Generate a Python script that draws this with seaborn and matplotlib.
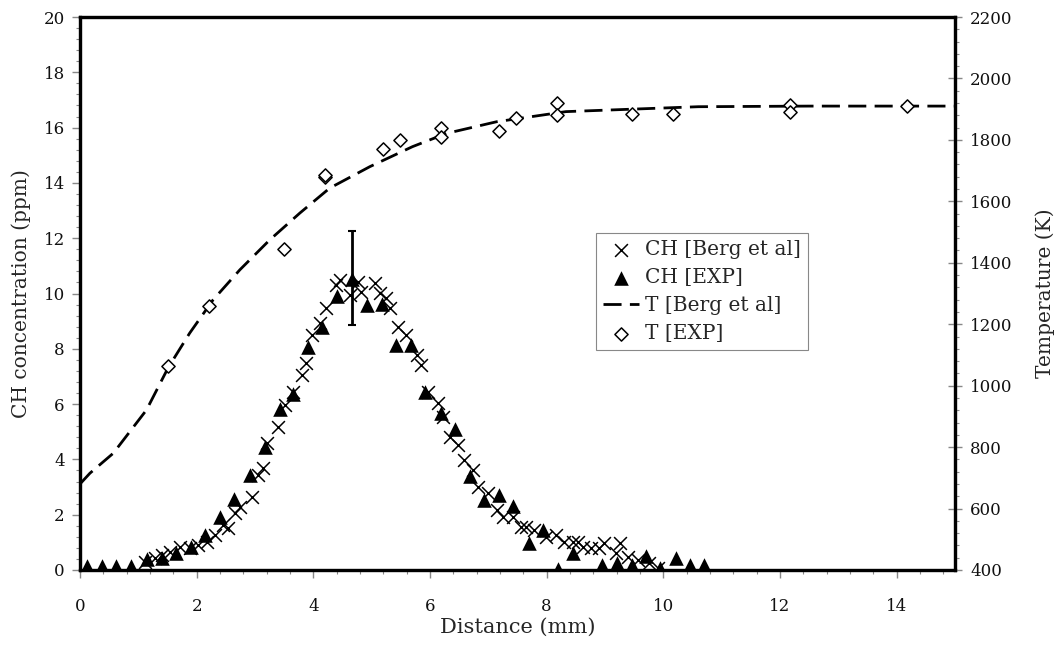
import numpy as np
import pandas as pd
import matplotlib
matplotlib.use("Agg")
import matplotlib.pyplot as plt
from matplotlib.ticker import MultipleLocator
import seaborn as sns

# CH [Berg et al] (crosses): distance (mm), CH (ppm)
ch_berg_x = [1.11, 1.28, 1.40, 1.54, 1.71, 1.88, 2.03, 2.17, 2.31, 2.45, 2.54, 2.65, 2.74,
             2.94, 3.05, 3.14, 3.20, 3.40, 3.52, 3.65, 3.80, 3.88, 3.97, 4.11, 4.22, 4.38,
             4.46, 4.62, 4.77, 4.82, 5.05, 5.14, 5.25, 5.31, 5.45, 5.59, 5.77, 5.85, 5.96,
             6.14, 6.22, 6.34, 6.48, 6.59, 6.73, 6.82, 6.99, 7.14, 7.25, 7.42, 7.56, 7.65,
             7.79, 7.99, 8.16, 8.30, 8.45, 8.53, 8.62, 8.76, 8.90, 8.99, 9.19, 9.25, 9.39,
             9.56, 9.76, 9.90]
ch_berg_y = [0.30, 0.42, 0.55, 0.66, 0.84, 0.78, 0.90, 1.02, 1.27, 1.63, 1.51, 2.05, 2.29,
             2.65, 3.44, 3.68, 4.58, 5.18, 5.97, 6.42, 7.05, 7.47, 8.50, 8.92, 9.46, 10.31,
             10.49, 9.95, 10.43, 10.07, 10.37, 10.01, 9.83, 9.46, 8.80, 8.50, 7.78, 7.41, 6.45,
             6.03, 5.54, 4.82, 4.52, 3.98, 3.62, 3.01, 2.77, 2.17, 1.93, 1.93, 1.57, 1.57,
             1.45, 1.20, 1.27, 1.02, 1.02, 1.02, 0.84, 0.78, 0.78, 0.97, 0.60, 0.97, 0.48,
             0.36, 0.24, 0.06]

# CH [EXP] (triangles)
ch_exp_x = [0.12, 0.37, 0.62, 0.88, 1.14, 1.40, 1.64, 1.90, 2.15, 2.40, 2.64, 2.91, 3.17,
            3.43, 3.65, 3.91, 4.15, 4.41, 4.67, 4.92, 5.17, 5.42, 5.68, 5.92, 6.18, 6.43,
            6.68, 6.92, 7.18, 7.43, 7.69, 7.93, 8.19, 8.45, 8.95, 9.20, 9.46, 9.70, 9.95,
            10.21, 10.46, 10.70]
ch_exp_y = [0.15, 0.15, 0.15, 0.15, 0.39, 0.42, 0.60, 0.84, 1.27, 1.90, 2.57, 3.44, 4.46,
            5.82, 6.35, 8.08, 8.80, 9.91, 10.51, 9.58, 9.61, 8.14, 8.14, 6.45, 5.69, 5.09,
            3.40, 2.53, 2.71, 2.31, 0.96, 1.45, 0.02, 0.60, 0.18, 0.24, 0.18, 0.51, 0.06,
            0.42, 0.18, 0.18]

# error bar on the peak experimental point
err_x = [4.67]
err_y = [10.55]
err_y_delta = [1.70]

# T [Berg et al] (dashed line): distance (mm), temperature (K)
t_berg_x = [0.0, 0.17, 0.57, 1.14, 1.51, 1.88, 2.28, 2.74, 3.25, 3.77, 4.28, 4.97, 5.70,
            6.28, 7.14, 8.33, 10.6, 12.5, 15.0]
t_berg_y = [680, 715, 780, 921, 1058, 1171, 1279, 1377, 1474, 1562, 1643, 1713, 1778,
            1821, 1859, 1892, 1908, 1910, 1910]

# T [EXP] (diamonds)
t_exp_x = [1.51, 2.21, 3.49, 4.20, 4.20, 5.19, 5.49, 6.19, 6.19, 7.19, 7.48, 8.18, 8.18,
           9.47, 10.17, 12.17, 12.17, 14.17]
t_exp_y = [1064, 1260, 1444, 1680, 1685, 1769, 1800, 1838, 1810, 1830, 1870, 1919, 1881,
           1884, 1884, 1914, 1892, 1910]

sns.set_style("white")
plt.rcParams['font.family'] = ['DejaVu Serif']
plt.rcParams['font.size'] = 13

fig = plt.figure(figsize=(10.55, 6.47), dpi=100)
ax = fig.add_axes([80 / 1055, 1 - 570 / 647, 875 / 1055, 553 / 647])
ax2 = ax.twinx()

sns.scatterplot(x=ch_berg_x, y=ch_berg_y, ax=ax, marker='x', color='black', s=85,
                linewidth=1.1, label='CH [Berg et al]', zorder=3)
sns.scatterplot(x=ch_exp_x, y=ch_exp_y, ax=ax, marker='^', color='black', s=110,
                edgecolor='black', linewidth=0, label='CH [EXP]', zorder=4)
ax.errorbar(err_x, err_y, yerr=err_y_delta, fmt='none', ecolor='black', elinewidth=2,
            capsize=3, capthick=1.5, zorder=5)

sns.lineplot(x=t_berg_x, y=t_berg_y, ax=ax2, color='black', linewidth=2,
             label='T [Berg et al]', zorder=3)
ax2.lines[-1].set_dashes((6.5, 3))
sns.scatterplot(x=t_exp_x, y=t_exp_y, ax=ax2, marker='D', s=45, facecolor='white',
                edgecolor='black', linewidth=1.1, label='T [EXP]', zorder=4)

for a in (ax, ax2):
    lg = a.get_legend()
    if lg is not None:
        lg.remove()

ax.set_xlim(0, 15)
ax.set_ylim(0, 20)
ax2.set_ylim(400, 2200)

ax.xaxis.set_major_locator(MultipleLocator(2))
ax.xaxis.set_minor_locator(MultipleLocator(0.4))
ax.yaxis.set_major_locator(MultipleLocator(2))
ax.yaxis.set_minor_locator(MultipleLocator(0.4))
ax2.yaxis.set_major_locator(MultipleLocator(200))
ax2.yaxis.set_minor_locator(MultipleLocator(40))

ax.tick_params(axis='both', which='major', direction='out', length=6, width=1,
               color='#888888', labelsize=12, labelcolor='#111111',
               bottom=True, left=True, pad=5)
ax.tick_params(axis='x', which='major', pad=14)
ax.tick_params(axis='both', which='minor', direction='out', length=3, width=0.8,
               color='#888888', bottom=True, left=True)
ax2.tick_params(axis='y', which='major', direction='inout', length=10, width=1,
                color='#888888', labelsize=12, labelcolor='#111111', right=True, pad=6)
ax2.tick_params(axis='y', which='minor', direction='out', length=3, width=0.8,
                color='#888888', right=True)

ax.set_xlabel('Distance (mm)', fontsize=15, labelpad=2)
ax.set_ylabel('CH concentration (ppm)', fontsize=14.5, labelpad=9)
ax2.set_ylabel('Temperature (K)', fontsize=14.5, labelpad=16)

for a in (ax, ax2):
    for sp in a.spines.values():
        sp.set_color('black')
        sp.set_linewidth(2.3)
        sp.set_visible(True)

h1, l1 = ax.get_legend_handles_labels()
h2, l2 = ax2.get_legend_handles_labels()
leg = ax2.legend(h1 + h2, l1 + l2, loc='upper left', bbox_to_anchor=(0.5897, 0.6094),
                 frameon=True, fancybox=False, edgecolor='#888888', framealpha=1,
                 fontsize=14.5, handlelength=1.8, handletextpad=0.3, borderpad=0.35,
                 labelspacing=0.45, borderaxespad=0)
leg.get_frame().set_linewidth(0.8)

fig.savefig('out.png', dpi=100)
